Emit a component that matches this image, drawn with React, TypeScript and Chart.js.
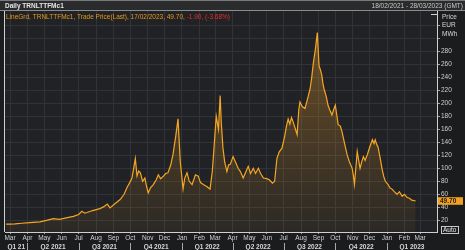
import React, { useEffect, useRef } from "react";
import { Chart, registerables } from "chart.js";
Chart.register(...registerables);

// ---- data ----
const START = "2021-02-18";
const END = "2023-03-28";

const dates2021 = [
  "2021-02-22", "2021-03-01", "2021-03-10", "2021-03-22", "2021-04-05", "2021-04-23",
  "2021-05-05", "2021-05-17", "2021-05-28", "2021-06-11", "2021-06-22", "2021-07-01",
  "2021-07-07", "2021-07-12", "2021-07-16", "2021-07-26", "2021-08-08", "2021-08-15",
  "2021-08-21", "2021-08-26", "2021-09-03", "2021-09-13", "2021-09-20", "2021-09-25",
  "2021-09-30", "2021-10-04", "2021-10-07", "2021-10-10", "2021-10-13", "2021-10-16",
  "2021-10-19", "2021-10-23", "2021-10-27", "2021-10-30", "2021-11-02", "2021-11-06",
  "2021-11-11", "2021-11-16", "2021-11-20", "2021-11-24", "2021-11-29", "2021-12-03",
  "2021-12-07", "2021-12-12", "2021-12-16", "2021-12-21", "2021-12-25", "2021-12-29",
];
const prices2021 = [
  14, 14, 14.5, 15.5, 16.5, 17.5,
  20, 22.5, 21.5, 24, 26, 29,
  34, 31, 32, 35, 38, 41,
  45, 39, 45, 52, 60, 70,
  78, 85, 100, 115, 88, 96,
  93, 80, 85, 72, 62, 70,
  75, 82, 90, 84, 88, 92,
  93, 105, 121, 150, 176, 110,
];

const dates2022 = [
  "2022-01-01", "2022-01-03", "2022-01-06", "2022-01-10", "2022-01-14", "2022-01-19",
  "2022-01-25", "2022-01-30", "2022-02-03", "2022-02-08", "2022-02-14", "2022-02-20",
  "2022-02-24", "2022-02-27", "2022-03-03", "2022-03-07", "2022-03-10", "2022-03-12",
  "2022-03-15", "2022-03-18", "2022-03-22", "2022-03-25", "2022-03-28", "2022-04-02",
  "2022-04-06", "2022-04-11", "2022-04-15", "2022-04-20", "2022-04-25", "2022-04-29",
  "2022-05-03", "2022-05-08", "2022-05-12", "2022-05-17", "2022-05-21", "2022-05-26",
  "2022-06-01", "2022-06-06", "2022-06-11", "2022-06-15", "2022-06-19", "2022-06-23",
  "2022-06-28", "2022-07-03", "2022-07-06", "2022-07-09", "2022-07-12", "2022-07-15",
  "2022-07-18", "2022-07-22", "2022-07-25", "2022-07-28", "2022-07-30", "2022-08-03",
  "2022-08-08", "2022-08-12", "2022-08-17", "2022-08-20", "2022-08-23", "2022-08-26",
  "2022-08-30", "2022-09-02", "2022-09-05", "2022-09-07", "2022-09-09", "2022-09-11",
  "2022-09-15", "2022-09-18", "2022-09-21", "2022-09-25", "2022-09-28", "2022-10-01",
  "2022-10-04", "2022-10-06", "2022-10-10", "2022-10-13", "2022-10-17", "2022-10-22",
  "2022-10-26", "2022-10-31", "2022-11-02", "2022-11-04", "2022-11-07", "2022-11-09",
  "2022-11-12", "2022-11-14", "2022-11-17", "2022-11-20", "2022-11-23", "2022-11-27",
  "2022-12-01", "2022-12-06", "2022-12-09", "2022-12-11", "2022-12-14", "2022-12-16",
  "2022-12-20", "2022-12-23", "2022-12-26", "2022-12-29",
];
const prices2022 = [
  85, 68, 85, 93, 80, 75,
  90, 88, 78, 75, 72, 68,
  95, 131, 180, 160, 212, 170,
  131, 110, 95, 105, 106, 118,
  110, 100, 95, 85, 95, 103,
  92, 100, 92, 100, 92, 85,
  84, 82, 77, 80, 115, 125,
  131, 150, 165, 176, 168, 178,
  171, 160, 152, 190, 202, 195,
  192, 205, 222, 240, 263, 280,
  309, 258, 250, 243, 230, 222,
  210, 197, 190, 182, 190, 197,
  180, 167, 165, 156, 140, 121,
  110, 100, 90, 75, 105, 126,
  110, 100, 110, 118, 112, 121,
  132, 144, 138, 144, 136, 133,
  115, 100, 88, 80,
];

const dates2023 = [
  "2023-01-03", "2023-01-06", "2023-01-10", "2023-01-14", "2023-01-19", "2023-01-23",
  "2023-01-28", "2023-02-01", "2023-02-06", "2023-02-10", "2023-02-14", "2023-02-21",
];
const prices2023 = [
  75, 70, 68, 64, 60, 64,
  57, 60, 55, 54, 51, 49.7,
];

const monthNames = ["Jan", "Feb", "Mar", "Apr", "May", "Jun", "Jul", "Aug", "Sep", "Oct", "Nov", "Dec"];
const quarterLabels = ["Q1 21", "Q2 2021", "Q3 2021", "Q4 2021", "Q1 2022", "Q2 2022", "Q3 2022", "Q4 2022", "Q1 2023"];
const yTickValues = [20, 40, 60, 80, 100, 120, 140, 160, 180, 200, 220, 240, 260, 280, 300, 320];
const yLabelMax = 280;
const lastPrice = 49.7;
const lastPriceText = "49.70";

const titleText = "Daily TRNLTTFMc1";
const rangeText = "18/02/2021 - 28/03/2023 (GMT)";
const legendMain = "LineGrd, TRNLTTFMc1, Trade Price(Last), 17/02/2023, 49.70, ";
const legendChange = "-1.90, (-3.68%)";
const unitLines = ["Price", "EUR", "MWh"];
const autoText = "Auto";

// ---- helpers ----
const DAY = 86400000;
const t0 = Date.parse(START + "T00:00:00Z");
const dayOf = (iso: string) => (Date.parse(iso + "T00:00:00Z") - t0) / DAY;
const X_MIN = 2;
const X_MAX = dayOf(END) + 3;

const FONT = "'Liberation Sans', Arial, sans-serif";

export default function App() {
  const ref = useRef<HTMLCanvasElement | null>(null);

  useEffect(() => {
    if (!ref.current) return;
    const allDates = [...dates2021, ...dates2022, ...dates2023];
    const allPrices = [...prices2021, ...prices2022, ...prices2023];
    const points = allDates.map((d, i) => ({ x: dayOf(d), y: allPrices[i] }));

    const monthTicks: { value: number; label: string }[] = [];
    const quarterStarts: number[] = [];
    const quarters: { start: number; end: number }[] = [];
    for (let y = 2021; y <= 2023; y++) {
      for (let m = 0; m < 12; m++) {
        const iso = `${y}-${String(m + 1).padStart(2, "0")}-01`;
        const v = dayOf(iso);
        if (v >= X_MIN && v <= X_MAX) {
          monthTicks.push({ value: v, label: monthNames[m] });
          if (m % 3 === 0) quarterStarts.push(v);
        }
        if (m % 3 === 0) {
          const endIso = m + 3 >= 12 ? `${y + 1}-01-01` : `${y}-${String(m + 4).padStart(2, "0")}-01`;
          const s = Math.max(v, X_MIN);
          const e = Math.min(dayOf(endIso), X_MAX);
          if (e > s) quarters.push({ start: s, end: e });
        }
      }
    }
    const labelMap = new Map(monthTicks.map((t) => [t.value, t.label]));

    const decor = {
      id: "decor",
      beforeDraw(chart: any) {
        const { ctx, chartArea: a } = chart;
        ctx.save();
        ctx.fillStyle = "#1b1c1e";
        ctx.fillRect(0, 0, chart.width, chart.height);
        ctx.fillStyle = "#212225";
        ctx.fillRect(a.left, a.top, a.right - a.left, a.bottom - a.top);
        ctx.restore();
      },
      afterDraw(chart: any) {
        const { ctx, chartArea: a } = chart;
        const xs = chart.scales.x;
        const ys = chart.scales.y;
        ctx.save();
        ctx.fillStyle = "#2a2b2d";
        ctx.fillRect(0, 0, chart.width, 10);
        ctx.strokeStyle = "#7a7a7a";
        ctx.lineWidth = 1;
        ctx.beginPath();
        ctx.moveTo(0, 0.5);
        ctx.lineTo(chart.width, 0.5);
        ctx.stroke();
        ctx.strokeStyle = "#8c8c8c";
        ctx.beginPath();
        ctx.moveTo(0, 10.5);
        ctx.lineTo(chart.width, 10.5);
        ctx.stroke();
        ctx.textBaseline = "middle";
        ctx.font = `bold 6.5px ${FONT}`;
        ctx.fillStyle = "#e6e6e6";
        ctx.textAlign = "left";
        ctx.fillText(titleText, 5, 6);
        ctx.font = `6.5px ${FONT}`;
        ctx.fillStyle = "#c8c8c8";
        ctx.textAlign = "right";
        ctx.fillText(rangeText, 463, 6.5);

        ctx.textAlign = "left";
        ctx.font = `6.5px ${FONT}`;
        ctx.fillStyle = "#e09a22";
        ctx.fillText(legendMain, 6, 17);
        const w = ctx.measureText(legendMain).width;
        ctx.fillStyle = "#e0302c";
        ctx.fillText(legendChange, 6 + w, 17);

        ctx.strokeStyle = "#d0d0d0";
        ctx.beginPath();
        ctx.moveTo(a.left - 0.5, 11);
        ctx.lineTo(a.left - 0.5, a.bottom);
        ctx.stroke();
        ctx.beginPath();
        ctx.moveTo(a.right - 6, 14.5);
        ctx.lineTo(a.right + 0.5, 14.5);
        ctx.stroke();

        ctx.fillStyle = "#d8d8d8";
        ctx.font = `6.5px ${FONT}`;
        unitLines.forEach((t, i) => ctx.fillText(t, a.right + 5, 17 + i * 8.6));

        const py = ys.getPixelForValue(lastPrice);
        ctx.fillStyle = "#f0a21f";
        ctx.fillRect(a.right + 1, py - 3.8, 25, 7.6);
        ctx.fillStyle = "#1a1a1a";
        ctx.font = `bold 6.5px ${FONT}`;
        ctx.fillText(lastPriceText, a.right + 3, py + 0.3);

        ctx.strokeStyle = "#c8c8c8";
        ctx.strokeRect(441.5, 226.5, 17, 7);
        ctx.fillStyle = "#e8e8e8";
        ctx.font = `6.5px ${FONT}`;
        ctx.fillText(autoText, 443, 230.3);

        ctx.strokeStyle = "#a8a8a8";
        quarterStarts.forEach((v) => {
          const x = Math.round(xs.getPixelForValue(v)) + 0.5;
          ctx.beginPath();
          ctx.moveTo(x, 243);
          ctx.lineTo(x, 250);
          ctx.stroke();
        });
        ctx.fillStyle = "#d8d8d8";
        ctx.font = `bold 6.5px ${FONT}`;
        ctx.textAlign = "center";
        quarters.forEach((q, i) => {
          const cx = (xs.getPixelForValue(q.start) + xs.getPixelForValue(q.end)) / 2;
          if (quarterLabels[i]) ctx.fillText(quarterLabels[i], cx, a.bottom + 15);
        });
        ctx.restore();
      },
    };

    const chart = new Chart(ref.current, {
      type: "line",
      data: {
        datasets: [
          {
            data: points,
            borderColor: "#f5a623",
            borderWidth: 1.2,
            pointRadius: 0,
            tension: 0,
            fill: "start",
            backgroundColor: (ctx: any) => {
              const a = ctx.chart.chartArea;
              if (!a) return "rgba(240,160,40,0.15)";
              const g = ctx.chart.ctx.createLinearGradient(0, a.top, 0, a.bottom);
              g.addColorStop(0, "rgba(240,160,40,0.38)");
              g.addColorStop(1, "rgba(240,160,40,0.05)");
              return g;
            },
          },
        ],
      },
      options: {
        responsive: false,
        animation: false,
        devicePixelRatio: 1,
        layout: { padding: { left: 5, top: 11, right: 0, bottom: 0 } },
        plugins: { legend: { display: false }, tooltip: { enabled: false } },
        scales: {
          x: {
            type: "linear",
            min: X_MIN,
            max: X_MAX,
            afterBuildTicks: (s: any) => {
              s.ticks = monthTicks.map((t) => ({ value: t.value }));
            },
            afterFit: (s: any) => {
              s.height = 18;
            },
            ticks: {
              autoSkip: false,
              maxRotation: 0,
              padding: 0,
              color: "#cfcfcf",
              font: { size: 6.5, family: FONT },
              callback: (v: any) => labelMap.get(v) ?? "",
            },
            grid: { color: "#323337", lineWidth: 1, drawTicks: true, tickLength: 2, tickColor: "#a0a0a0" },
            border: { color: "#d0d0d0", width: 1 },
          },
          y: {
            position: "right",
            min: 2,
            max: 342,
            afterBuildTicks: (s: any) => {
              s.ticks = yTickValues.map((v) => ({ value: v }));
            },
            afterFit: (s: any) => {
              s.width = 28;
            },
            ticks: {
              padding: 1,
              color: "#cfcfcf",
              font: { size: 6.5, family: FONT },
              callback: (v: any) => (v <= yLabelMax ? String(v) : ""),
            },
            grid: { color: "#323337", lineWidth: 1, drawTicks: true, tickLength: 3, tickColor: "#a0a0a0" },
            border: { color: "#d0d0d0", width: 1 },
          },
        },
      },
      plugins: [decor],
    } as any);
    return () => chart.destroy();
  }, []);

  return (
    <div style={{ position: "fixed", left: 0, top: 0, width: 465, height: 250, background: "#1b1c1e" }}>
      <canvas ref={ref} width={465} height={250} style={{ display: "block", width: 465, height: 250 }} />
    </div>
  );
}
